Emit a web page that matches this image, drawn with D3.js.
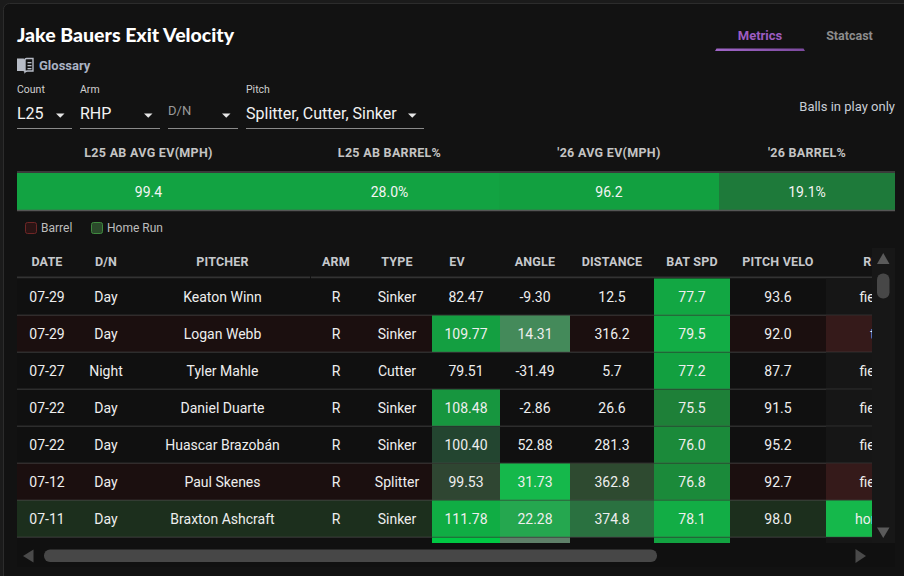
<!DOCTYPE html>
<html>
<head>
<meta charset="utf-8">
<script src="https://cdn.jsdelivr.net/npm/d3@7/dist/d3.min.js"></script>
<style>
  html, body { margin: 0; padding: 0; background: #1b1b1b; }
  svg { display: block; }
  text { font-family: Roboto, "Noto Sans", sans-serif; }
</style>
</head>
<body>
<svg id="chart" width="904" height="576"></svg>
<script>
// ---------------- DATA ----------------
const summaryLabels = ["L25 AB AVG EV(MPH)", "L25 AB BARREL%", "'26 AVG EV(MPH)", "'26 BARREL%"];
const summaryValues = [99.4, 28.0, 96.2, 19.1];
const summaryKinds  = ["ev", "barrel", "ev", "barrel"];

const columnHeaders = ["DATE", "D/N", "PITCHER", "ARM", "TYPE", "EV", "ANGLE", "DISTANCE", "BAT SPD", "PITCH VELO", "RESULT"];

const dates      = ["07-29", "07-29", "07-27", "07-22", "07-22", "07-12", "07-11", "07-08"];
const dayNight   = ["Day", "Day", "Night", "Day", "Day", "Day", "Day", "Day"];
const pitchers   = ["Keaton Winn", "Logan Webb", "Tyler Mahle", "Daniel Duarte", "Huascar Brazobán", "Paul Skenes", "Braxton Ashcraft", "—"];
const arms       = ["R", "R", "R", "R", "R", "R", "R", "R"];
const pitchTypes = ["Sinker", "Sinker", "Cutter", "Sinker", "Sinker", "Splitter", "Sinker", "Sinker"];
const exitVelo   = [82.47, 109.77, 79.51, 108.48, 100.40, 99.53, 111.78, 114.6];
const launchAngle= [-9.30, 14.31, -31.49, -2.86, 52.88, 31.73, 22.28, 9.5];
const distance   = [12.5, 316.2, 5.7, 26.6, 281.3, 362.8, 374.8, 210.0];
const batSpeed   = [77.7, 79.5, 77.2, 75.5, 76.0, 76.8, 78.1, 77.4];
const pitchVelo  = [93.6, 92.0, 87.7, 91.5, 95.2, 92.7, 98.0, 94.0];
const results    = ["field_out", "triple", "field_out", "field_out", "field_out", "field_out", "home_run", "field_out"];
const barrels    = [false, true, false, false, false, true, false, false];

const filterLabels = ["Count", "Arm", "", "Pitch"];
const filterValues = ["L25", "RHP", "D/N", "Splitter, Cutter, Sinker"];
const legendItems  = ["Barrel", "Home Run"];

// ---------------- LAYOUT ----------------
const W = 904, H = 576;
const tableLeft = 17, tableRight = 872, tableTop = 248, headerBottom = 278.5, rowH = 37;
const clipBottom = 543;
const colWidths = [60, 58, 175, 52, 70, 68, 70, 84, 76, 96, 120];
const headerShift = [0, 0, 0, 0, 0, -9, 0, 0, 0, 0, 0];
const summaryWidths = [263, 219, 220, 176];

const svg = d3.select("#chart");

// card
svg.append("rect").attr("x", 3.5).attr("y", 3.5).attr("width", W + 10).attr("height", H + 10)
  .attr("rx", 6).attr("fill", "#121212").attr("stroke", "#2c2c2c");

// title
svg.append("text").attr("x", 17).attr("y", 42)
  .style("font-family", "Lato, 'Open Sans', sans-serif").style("font-weight", 900)
  .style("font-size", "19.5px").attr("fill", "#ffffff").text("Jake Bauers Exit Velocity");

// glossary icon + text
const book = svg.append("g").attr("fill", "#b7bcc6");
book.append("path").attr("d", "M17,58.5 h6.5 q1.5,0 1.5,1.5 v12 q-1,-1 -2.5,-1 h-5.5 z");
book.append("path").attr("d", "M33,58.5 h-6.5 q-1.5,0 -1.5,1.5 v12 q1,-1 2.5,-1 h5.5 z")
  .attr("fill", "none").attr("stroke", "#b7bcc6").attr("stroke-width", 1.4);
[62, 65, 68].forEach(y => book.append("rect").attr("x", 27.5).attr("y", y).attr("width", 4).attr("height", 1.3));
svg.append("text").attr("x", 39).attr("y", 65).attr("dominant-baseline", "central")
  .style("font-size", "13px").style("font-weight", 700).attr("fill", "#aab3c4").text("Glossary");

// filters
const filterX = [17, 80, 168, 246];
const filterW = [55, 80, 70, 178];
filterValues.forEach((v, i) => {
  const g = svg.append("g");
  if (filterLabels[i]) {
    g.append("text").attr("x", filterX[i]).attr("y", 89).attr("dominant-baseline", "central")
      .style("font-size", "10.5px").attr("fill", "#cfcfcf").text(filterLabels[i]);
  }
  const placeholder = i === 2;
  g.append("text").attr("x", filterX[i]).attr("y", placeholder ? 110.5 : 113).attr("dominant-baseline", "central")
    .style("font-size", placeholder ? "13px" : "16px")
    .attr("fill", placeholder ? "#9a9a9a" : "#f2f2f2").text(v);
  const ax = filterX[i] + filterW[i] - 16;
  g.append("path").attr("d", `M${ax},113.5 l8.5,0 l-4.25,4.25 z`).attr("fill", "#e6e6e6");
  g.append("line").attr("x1", filterX[i]).attr("x2", filterX[i] + filterW[i])
    .attr("y1", 128.5).attr("y2", 128.5).attr("stroke", "#8a8a8a").attr("stroke-width", 1);
});

// tabs
const grad = svg.append("defs").append("linearGradient").attr("id", "tabgrad");
grad.append("stop").attr("offset", "0%").attr("stop-color", "#a066c8");
grad.append("stop").attr("offset", "100%").attr("stop-color", "#7c4a9e");
svg.append("text").attr("x", 760).attr("y", 35).attr("text-anchor", "middle").attr("dominant-baseline", "central")
  .style("font-size", "13px").style("font-weight", 700).attr("fill", "#9d5cc0").text("Metrics");
svg.append("path").attr("d", "M715,51 L716.5,48.5 L803.5,48.5 L805,51 Z").attr("fill", "url(#tabgrad)");
svg.append("text").attr("x", 849.5).attr("y", 35).attr("text-anchor", "middle").attr("dominant-baseline", "central")
  .style("font-size", "12.5px").style("font-weight", 700).attr("fill", "#8c8c8c").text("Statcast");

svg.append("text").attr("x", 895).attr("y", 106).attr("text-anchor", "end").attr("dominant-baseline", "central")
  .style("font-size", "13px").attr("fill", "#c9ced6").text("Balls in play only");

// ---------------- SUMMARY ----------------
const summaryX = d3.cumsum([tableLeft, ...summaryWidths]);
const evSummaryColor = d3.scaleLinear().domain([90, 96.2, 99.4]).range(["#2a3a2c", "#12a040", "#12a342"]).clamp(true);
const brlSummaryColor = d3.scaleLinear().domain([10, 19.1, 28.0]).range(["#2a3a2c", "#1e7a3a", "#12a342"]).clamp(true);
svg.append("line").attr("x1", 17).attr("x2", 895).attr("y1", 172).attr("y2", 172).attr("stroke", "#3a3a3a").attr("stroke-width", 2);
summaryValues.forEach((v, i) => {
  const x0 = summaryX[i], w = summaryWidths[i];
  svg.append("text").attr("x", x0 + w / 2).attr("y", 152).attr("text-anchor", "middle").attr("dominant-baseline", "central")
    .style("font-size", "12.5px").style("font-weight", 700).style("letter-spacing", "0.3px")
    .attr("fill", "#c4c4c4").text(summaryLabels[i]);
  const col = summaryKinds[i] === "ev" ? evSummaryColor(v) : brlSummaryColor(v);
  svg.append("rect").attr("x", x0).attr("y", 173).attr("width", w).attr("height", 37).attr("fill", col);
  svg.append("text").attr("x", x0 + w / 2).attr("y", 191.5).attr("text-anchor", "middle").attr("dominant-baseline", "central")
    .style("font-size", "14px").attr("fill", "#f4f4f4")
    .text(summaryKinds[i] === "ev" ? v.toFixed(1) : v.toFixed(1) + "%");
});
svg.append("line").attr("x1", 17).attr("x2", 895).attr("y1", 210.5).attr("y2", 210.5).attr("stroke", "#555").attr("stroke-width", 1.5);

// legend
const legendFill = d3.scaleOrdinal().domain(legendItems).range(["#2a1414", "#2b4a2b"]);
const legendStroke = d3.scaleOrdinal().domain(legendItems).range(["#6e2626", "#3f8a3f"]);
const legendX = [25, 91];
legendItems.forEach((t, i) => {
  svg.append("rect").attr("x", legendX[i] + 0.5).attr("y", 222.5).attr("width", 11).attr("height", 11).attr("rx", 2)
    .attr("fill", legendFill(t)).attr("stroke", legendStroke(t));
  svg.append("text").attr("x", legendX[i] + 16).attr("y", 228).attr("dominant-baseline", "central")
    .style("font-size", "12px").attr("fill", "#bdbdbd").text(t);
});

// ---------------- TABLE ----------------
const colX = d3.cumsum([tableLeft, ...colWidths]);
const colScale = d3.scaleOrdinal().domain(columnHeaders).range(colX.slice(0, columnHeaders.length));
const colW = d3.scaleOrdinal().domain(columnHeaders).range(colWidths);
const rowIdx = d3.range(dates.length);
const y = d3.scaleBand().domain(rowIdx).range([headerBottom, headerBottom + rowH * dates.length]).padding(0);

const rowType = i => results[i] === "home_run" ? "hr" : (barrels[i] ? "barrel" : "none");
const rowBg = d3.scaleOrdinal().domain(["none", "barrel", "hr"]).range(["#101010", "#1b0f0f", "#1c2f1d"]);
const resultBg = d3.scaleOrdinal().domain(["none", "barrel", "hr"]).range(["#161616", "#351a1a", "#15b84b"]);

const evColor = v => v < 99 ? null :
  d3.scaleLinear().domain([99.5, 100.4, 108.5, 111.8, 114.5])
    .range(["#2f4632", "#234530", "#17963f", "#10ad44", "#00c843"]).clamp(true)(v);
const angleColor = v => (v < 8 || v > 40) ? null :
  d3.scaleLinear().domain([8, 14.31, 22.28, 31.73]).range(["#667b6d", "#448a5a", "#25a74f", "#15b84b"]).clamp(true)(v);
const distColor = v => v < 340 ? null :
  d3.scaleLinear().domain([340, 362.8, 374.8, 420]).range(["#2f3f30", "#2e4a30", "#2a7140", "#12a040"]).clamp(true)(v);
const batColor = v =>
  d3.scaleLinear().domain([75.5, 76.0, 76.8, 77.2, 78.1]).range(["#1e8038", "#1b8a3a", "#1b8a3a", "#12a040", "#12ad45"]).clamp(true)(v);

const fix = n => d => d.toFixed(n);
const columns = [
  { key: "DATE", val: dates, fmt: d => d },
  { key: "D/N", val: dayNight, fmt: d => d },
  { key: "PITCHER", val: pitchers, fmt: d => d },
  { key: "ARM", val: arms, fmt: d => d },
  { key: "TYPE", val: pitchTypes, fmt: d => d },
  { key: "EV", val: exitVelo, fmt: fix(2), color: evColor },
  { key: "ANGLE", val: launchAngle, fmt: fix(2), color: angleColor },
  { key: "DISTANCE", val: distance, fmt: fix(1), color: distColor },
  { key: "BAT SPD", val: batSpeed, fmt: fix(1), color: batColor },
  { key: "PITCH VELO", val: pitchVelo, fmt: fix(1) },
  { key: "RESULT", val: results, fmt: d => d, colorRow: i => resultBg(rowType(i)) }
];

const defs = svg.select("defs");
defs.append("clipPath").attr("id", "tclip").append("rect")
  .attr("x", tableLeft).attr("y", tableTop).attr("width", tableRight - tableLeft).attr("height", clipBottom - tableTop);

// table container bg
svg.append("rect").attr("x", tableLeft).attr("y", tableTop).attr("width", 895 - tableLeft).attr("height", 567 - tableTop).attr("fill", "#101010");
svg.append("rect").attr("x", tableLeft).attr("y", tableTop).attr("width", tableRight - tableLeft).attr("height", headerBottom - tableTop).attr("fill", "#121212");

const T = svg.append("g").attr("clip-path", "url(#tclip)");

// header
columns.forEach((c, ci) => {
  T.append("text").attr("x", colScale(c.key) + colW(c.key) / 2 + headerShift[ci]).attr("y", 261.5)
    .attr("text-anchor", "middle").attr("dominant-baseline", "central")
    .style("font-size", "12.5px").style("font-weight", 700).style("letter-spacing", "0.2px")
    .attr("fill", "#c6c8cc").text(c.key);
});
T.append("line").attr("x1", tableLeft).attr("x2", 310).attr("y1", 277.5).attr("y2", 277.5).attr("stroke", "#333").attr("stroke-width", 2);
T.append("line").attr("x1", 311).attr("x2", tableRight).attr("y1", 277.5).attr("y2", 277.5).attr("stroke", "#333").attr("stroke-width", 2);

// rows
const rows = T.selectAll("g.row").data(rowIdx).join("g").attr("class", "row");
rows.append("rect").attr("x", tableLeft).attr("y", i => y(i)).attr("width", tableRight - tableLeft).attr("height", y.bandwidth())
  .attr("fill", i => rowBg(rowType(i)));
columns.forEach(c => {
  rows.each(function (i) {
    const g = d3.select(this);
    let fill = null;
    if (c.color) fill = c.color(c.val[i]);
    if (c.colorRow) fill = c.colorRow(i);
    if (fill) {
      g.append("rect").attr("x", colScale(c.key)).attr("y", y(i)).attr("width", colW(c.key)).attr("height", y.bandwidth()).attr("fill", fill);
    }
    g.append("text").attr("x", colScale(c.key) + colW(c.key) / 2).attr("y", y(i) + y.bandwidth() / 2 - 0.5)
      .attr("text-anchor", "middle").attr("dominant-baseline", "central")
      .style("font-size", "14px").attr("fill", "#eeeeee").text(c.fmt(c.val[i]));
  });
});
rows.filter(i => i < dates.length - 1).append("line").attr("x1", tableLeft).attr("x2", tableRight)
  .attr("y1", i => y(i) + y.bandwidth()).attr("y2", i => y(i) + y.bandwidth())
  .attr("stroke", "#4a4a4a").attr("stroke-width", 1.5);

// vertical scrollbar
svg.append("rect").attr("x", 872).attr("y", tableTop).attr("width", 23).attr("height", clipBottom - tableTop).attr("fill", "#171717");
svg.append("path").attr("d", "M877,264 L889.5,264 L883.25,253 Z").attr("fill", "#5a5a5a");
svg.append("rect").attr("x", 877).attr("y", 273.5).attr("width", 12.5).attr("height", 25).attr("rx", 6).attr("fill", "#474747");
svg.append("path").attr("d", "M877,527.5 L889.5,527.5 L883.25,538 Z").attr("fill", "#5a5a5a");

// horizontal scrollbar
svg.append("path").attr("d", "M33.5,549.5 L33.5,562.5 L23,556 Z").attr("fill", "#4a4a4a");
svg.append("rect").attr("x", 44).attr("y", 549.5).attr("width", 613).attr("height", 12.5).attr("rx", 6).attr("fill", "#474747");
svg.append("path").attr("d", "M855.5,549 L855.5,563 L866,556 Z").attr("fill", "#4a4a4a");
</script>
</body>
</html>
